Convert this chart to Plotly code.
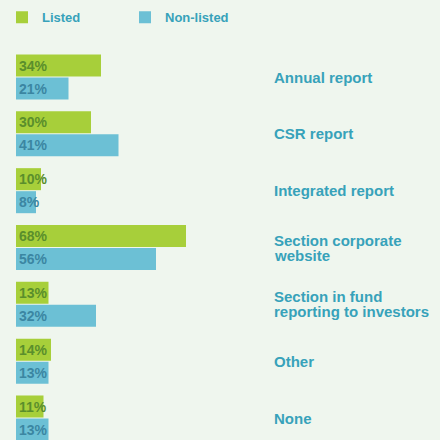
import plotly.graph_objects as go

# data
categories = ["Annual report", "CSR report", "Integrated report",
              "Section corporate website",
              "Section in fund reporting to investors",
              "Other", "None"]
label_lines = [["Annual report"], ["CSR report"], ["Integrated report"],
               ["Section corporate", "website"],
               ["Section in fund", "reporting to investors"],
               ["Other"], ["None"]]
listed = [34, 30, 10, 68, 13, 14, 11]
non_listed = [21, 41, 8, 56, 32, 13, 13]

bg = "#eff6ee"
green = "#a7cf3a"
blue = "#6cc0d5"
teal = "#37a2ba"
font_family = "Liberation Sans, Arial, sans-serif"

fig = go.Figure()
fig.add_trace(go.Bar(y=categories, x=listed, orientation="h", name="Listed",
                     marker=dict(color=green, line=dict(width=0)),
                     text=[f"{v}%" for v in listed],
                     textposition="inside", insidetextanchor="start",
                     textangle=0, constraintext="none", cliponaxis=False,
                     textfont=dict(color="#5a8e2c", size=14, family=font_family,
                                   weight="bold")))
fig.add_trace(go.Bar(y=categories, x=non_listed, orientation="h", name="Non-listed",
                     marker=dict(color=blue, line=dict(width=0)),
                     text=[f"{v}%" for v in non_listed],
                     textposition="inside", insidetextanchor="start",
                     textangle=0, constraintext="none", cliponaxis=False,
                     textfont=dict(color="#3b86a2", size=14, family=font_family,
                                   weight="bold")))

# category labels to the right of the bars, one annotation per line
line_gap = 15
for c, lines in zip(categories, label_lines):
    n = len(lines)
    for i, ln in enumerate(lines):
        fig.add_annotation(x=0.6164, xref="paper", y=c, yref="y",
                           text="<b>" + ln + "</b>", showarrow=False,
                           xanchor="left", yanchor="middle", align="left",
                           yshift=((n - 1) / 2 - i) * line_gap,
                           font=dict(color=teal, size=15, family=font_family))

fig.update_layout(
    width=440, height=440,
    margin=dict(l=2, r=0, t=0, b=0),
    paper_bgcolor=bg, plot_bgcolor=bg,
    barmode="group", bargap=0.19, bargroupgap=0.0435,
    showlegend=True,
    legend=dict(orientation="h", x=0, xanchor="left", y=0.995, yanchor="top",
                entrywidth=78, bgcolor="rgba(0,0,0,0)",
                font=dict(color=teal, size=13, family=font_family, weight="bold")),
    xaxis=dict(domain=[14 / 438, 1], range=[0, 169.6], visible=False,
               fixedrange=True),
    yaxis=dict(type="category", range=[6.387, -1.355], visible=False),
)

fig.write_html("out.html", config={"displayModeBar": False},
               post_script="document.body.style.margin='0';")
